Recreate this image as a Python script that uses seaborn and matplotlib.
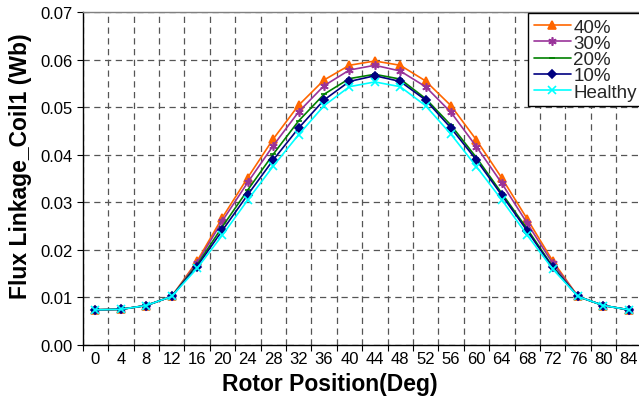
import numpy as np
import pandas as pd
import matplotlib
matplotlib.use("Agg")
import matplotlib.pyplot as plt
import seaborn as sns

# ---- data ----
positions = list(range(0, 88, 4))
series_names = ["40%", "30%", "20%", "10%", "Healthy"]
flux_40 = [0.0074, 0.0075, 0.0083, 0.0102, 0.0176, 0.0268, 0.0352, 0.0433, 0.0504, 0.0557, 0.0588,
           0.0597, 0.0588, 0.0555, 0.0503, 0.0431, 0.0351, 0.0265, 0.0177, 0.0102, 0.0083, 0.0074]
flux_30 = [0.0074, 0.0075, 0.0083, 0.0102, 0.0172, 0.0261, 0.0342, 0.0419, 0.0490, 0.0545, 0.0578,
           0.0588, 0.0576, 0.0543, 0.0489, 0.0417, 0.0340, 0.0256, 0.0172, 0.0102, 0.0083, 0.0074]
flux_20 = [0.0074, 0.0075, 0.0083, 0.0102, 0.0168, 0.0249, 0.0326, 0.0401, 0.0471, 0.0527, 0.0560,
           0.0569, 0.0559, 0.0518, 0.0462, 0.0394, 0.0319, 0.0244, 0.0165, 0.0102, 0.0083, 0.0074]
flux_10 = [0.0074, 0.0075, 0.0083, 0.0102, 0.0165, 0.0241, 0.0316, 0.0389, 0.0456, 0.0515, 0.0554,
           0.0566, 0.0554, 0.0515, 0.0456, 0.0389, 0.0315, 0.0240, 0.0163, 0.0102, 0.0083, 0.0074]
flux_healthy = [0.0074, 0.0075, 0.0083, 0.0102, 0.0161, 0.0231, 0.0305, 0.0376, 0.0442, 0.0503, 0.0543,
                0.0553, 0.0543, 0.0503, 0.0443, 0.0375, 0.0305, 0.0231, 0.0160, 0.0102, 0.0083, 0.0074]
y_ticks = [0.00, 0.01, 0.02, 0.03, 0.04, 0.05, 0.06, 0.07]

all_series = [flux_40, flux_30, flux_20, flux_10, flux_healthy]

# ---- styles ----
colors = ["#FF6600", "#993399", "#008000", "#000080", "#00FFFF"]
markers = ["^", (6, 2, 0), "_", "D", "x"]
msizes = [5.5, 6, 5, 4.5, 5.5]

sns.set_theme(style="white")
plt.rcParams["font.family"] = ["Liberation Sans", "DejaVu Sans"]

fig = plt.figure(figsize=(6.39, 4.02), dpi=100)
ax = fig.add_axes([82.7 / 639, 56 / 402, 558.8 / 639, 333 / 402])

for name, vals, c, m, ms in zip(series_names, all_series, colors, markers, msizes):
    df = pd.DataFrame({"pos": positions, "flux": vals})
    sns.lineplot(data=df, x="pos", y="flux", ax=ax, color=c, marker=m, markersize=ms,
                 markeredgecolor=c, markerfacecolor=c, markeredgewidth=1.2,
                 linewidth=1.2, label=name)

ax.set_xlim(-2, 86)
ax.set_ylim(0, 0.07)

# category-style x axis: labels at points, ticks/grid at boundaries
ax.set_xticks(positions)
ax.set_xticklabels([str(p) for p in positions], fontsize=12)
ax.set_xticks(list(range(-2, 90, 4)), minor=True)
ax.tick_params(axis="x", which="major", length=0, pad=4, colors="black")
ax.tick_params(axis="x", which="minor", length=4, width=0.8, direction="out",
               color="black", bottom=True)

ax.set_yticks(y_ticks)
ax.set_yticklabels([f"{v:.2f}" for v in y_ticks], fontsize=12)
ax.tick_params(axis="y", which="major", length=4, width=0.8, direction="out",
               color="black", left=True, pad=3, colors="black")

grid_kw = dict(color="#555555", linestyle=(0, (5, 3.6)), linewidth=0.9)
ax.grid(False)
ax.xaxis.grid(True, which="minor", **grid_kw)
ax.yaxis.grid(True, which="major", **grid_kw)
ax.set_axisbelow(True)

for s in ["left", "bottom"]:
    ax.spines[s].set_color("black")
    ax.spines[s].set_linewidth(1.0)
ax.spines["top"].set_color("#808080")
ax.spines["top"].set_linewidth(1.0)
ax.spines["right"].set_color("#808080")

ax.set_xlabel("Rotor Position(Deg)", fontsize=16.5, fontweight="bold", labelpad=2, color="black")
ax.xaxis.set_label_coords((330 - 82.7) / 558.8, -0.08)
ax.set_ylabel("Flux Linkage_Coil1 (Wb)", fontsize=16.5, fontweight="bold", labelpad=6, color="black")
ax.yaxis.set_label_coords(-0.09, (346 - 166) / 333)

leg = ax.legend(loc="upper left", bbox_to_anchor=(528 / 639, 1 - 14 / 402),
                bbox_transform=fig.transFigure, fontsize=13.5, frameon=True,
                fancybox=False, edgecolor="black", framealpha=1, borderpad=0.3,
                labelspacing=-0.05, handlelength=2.0, handletextpad=0.12,
                borderaxespad=0)
leg.get_frame().set_linewidth(1.0)

fig.savefig("out.png", dpi=100)
